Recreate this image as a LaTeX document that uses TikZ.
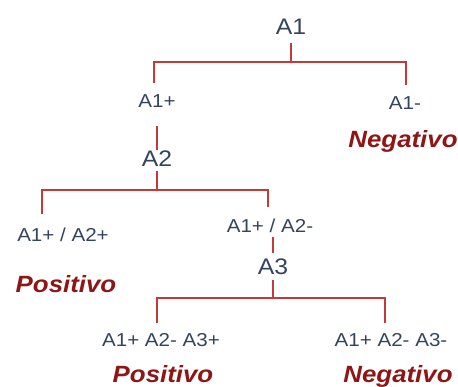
\documentclass[tikz,border=0pt]{standalone}
\usepackage{fontspec}
\setmainfont[FakeStretch=1.1]{Liberation Sans}
\definecolor{tinta}{HTML}{34445F}
\definecolor{linea}{HTML}{C43A3A}
\definecolor{veredicto}{HTML}{8E1616}

\begin{document}
\begin{tikzpicture}[x=1pt,y=-1pt,
  prueba/.style={text=tinta,inner sep=0pt,anchor=base,font=\fontsize{22.5}{22.5}\selectfont},
  estado/.style={text=tinta,inner sep=0pt,anchor=base,font=\fontsize{18.7}{18.7}\selectfont},
  result/.style={text=veredicto,inner sep=0pt,anchor=base,font=\fontsize{23.5}{23.5}\selectfont\bfseries\itshape},
  rama/.style={draw=linea,line width=1.4pt}]
  \useasboundingbox (0,0) rectangle (458,387);
  % nivel 1: prueba A1
  \node[prueba] (a1) at (291,35) {A1};
  \node[estado] (a1p) at (157,108) {A1+};
  \node[estado] (a1m) at (405,110) {A1-};
  \node[result] (neg1) at (403,148) {Negativo};
  \coordinate (j1) at (291,62);
  \coordinate (j1i) at (154,62);
  \coordinate (j1d) at (406,62);
  \draw[rama,shorten <=8] (a1.south) -- (j1);
  \draw[rama,shorten <=12,shorten >=12] (j1i |- a1p.north) -- (j1i) -- (j1d) -- (j1d |- a1m.north);
  % nivel 2: prueba A2
  \node[prueba] (a2) at (157,167) {A2};
  \draw[rama,shorten <=18,shorten >=1] (a2 |- a1p.south) -- (a2.north);
  \node[estado] (a1pa2p) at (63,242) {A1+ / A2+};
  \node[estado] (a1pa2m) at (270,233) {A1+ / A2-};
  \node[result] (pos1) at (66,293) {Positivo};
  \coordinate (j2) at (157,190);
  \coordinate (j2i) at (42,190);
  \coordinate (j2d) at (268,190);
  \draw[rama,shorten <=4] (a2.south) -- (j2);
  \draw[rama,shorten <=14,shorten >=12] (j2i |- a1pa2p.north) -- (j2i) -- (j2d) -- (j2d |- a1pa2m.north);
  % nivel 3: prueba A3
  \node[prueba] (a3) at (273,275) {A3};
  \draw[rama,shorten <=4,shorten >=6] (a3 |- a1pa2m.south) -- (a3.north);
  \node[estado] (a3p) at (161,347) {A1+ A2- A3+};
  \node[estado] (a3m) at (391,347) {A1+ A2- A3-};
  \node[result] (pos2) at (163,382) {Positivo};
  \node[result] (neg2) at (398,382) {Negativo};
  \coordinate (j3) at (273,298);
  \coordinate (j3i) at (157,298);
  \coordinate (j3d) at (385,298);
  \draw[rama,shorten <=5] (a3.south) -- (j3);
  \draw[rama,shorten <=11,shorten >=11] (j3i |- a3p.north) -- (j3i) -- (j3d) -- (j3d |- a3m.north);
\end{tikzpicture}
\end{document}
